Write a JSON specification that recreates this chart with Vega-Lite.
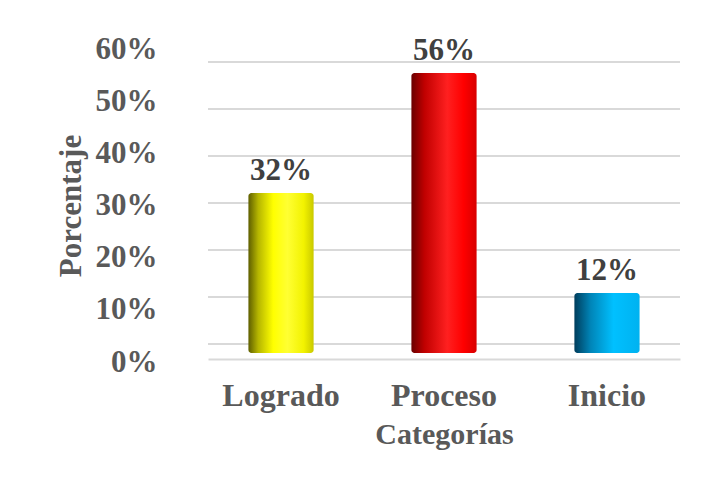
{
  "$schema": "https://vega.github.io/schema/vega-lite/v6.json",
  "autosize": {"type": "none"},
  "width": 472,
  "height": 313,
  "padding": {"left": 208, "top": 49, "right": 44, "bottom": 127},
  "background": "white",
  "config": {
    "view": {"stroke": null},
    "font": "Liberation Serif"
  },
  "datasets": {
    "main": [
      {"categoria": "Logrado", "porcentaje": 0.32},
      {"categoria": "Proceso", "porcentaje": 0.56},
      {"categoria": "Inicio", "porcentaje": 0.12}
    ],
    "ticks": [
      {"v": 0}, {"v": 0.1}, {"v": 0.2}, {"v": 0.3}, {"v": 0.4}, {"v": 0.5}, {"v": 0.6}
    ]
  },
  "layer": [
    {
      "data": {"name": "ticks"},
      "mark": {"type": "rule", "color": "#d9d9d9", "strokeWidth": 2},
      "encoding": {
        "y": {"field": "v", "type": "quantitative",
          "scale": {"domain": [-0.0383, 0.62766], "nice": false, "zero": false},
          "axis": null}
      }
    },
    {
      "data": {"name": "ticks"},
      "mark": {"type": "point", "opacity": 0},
      "encoding": {
        "y": {"field": "v", "type": "quantitative",
          "scale": {"domain": [0, 0.6], "nice": false, "zero": false},
          "axis": {
            "orient": "left",
            "values": [0, 0.1, 0.2, 0.3, 0.4, 0.5, 0.6],
            "format": ".0%",
            "title": "Porcentaje",
            "ticks": false, "tickSize": 0, "domain": false, "grid": false,
            "labelPadding": 51,
            "labelFont": "Liberation Serif", "labelFontWeight": "bold", "labelFontSize": 31, "labelColor": "#595959",
            "titleFont": "Liberation Serif", "titleFontWeight": "bold", "titleFontSize": 31, "titleColor": "#595959",
            "titlePadding": 8
          }}
      }
    },
    {
      "data": {"name": "main"},
      "encoding": {
        "x": {"field": "categoria", "type": "nominal", "sort": ["Logrado", "Proceso", "Inicio"],
          "scale": {"paddingInner": 0.6, "paddingOuter": 0.248},
          "axis": {
            "title": "Categorías",
            "labelAngle": 0,
            "ticks": false, "tickSize": 0,
            "domain": true, "domainColor": "#d9d9d9", "domainWidth": 2,
            "offset": -3,
            "labelPadding": 21,
            "labelFont": "Liberation Serif", "labelFontWeight": "bold", "labelFontSize": 32, "labelColor": "#595959",
            "titleFont": "Liberation Serif", "titleFontWeight": "bold", "titleFontSize": 30, "titleColor": "#595959",
            "titlePadding": 8
          }},
        "y": {"field": "porcentaje", "type": "quantitative",
          "scale": {"domain": [-0.018, 0.608], "nice": false, "zero": false},
          "axis": null}
      },
      "layer": [
        {
          "mark": {"type": "bar", "cornerRadius": 3},
          "encoding": {
            "y2": {"datum": 0},
            "fill": {
              "condition": [
                {"test": "datum.categoria === 'Logrado'", "value": {
                  "gradient": "linear", "x1": 0, "y1": 0, "x2": 1, "y2": 0,
                  "stops": [
                    {"offset": 0, "color": "#5e5e00"},
                    {"offset": 0.15, "color": "#b5b500"},
                    {"offset": 0.38, "color": "#ffff00"},
                    {"offset": 0.6, "color": "#ffff33"},
                    {"offset": 0.85, "color": "#f2f200"},
                    {"offset": 1, "color": "#c9c900"}
                  ]}},
                {"test": "datum.categoria === 'Proceso'", "value": {
                  "gradient": "linear", "x1": 0, "y1": 0, "x2": 1, "y2": 0,
                  "stops": [
                    {"offset": 0, "color": "#6a0000"},
                    {"offset": 0.2, "color": "#c00000"},
                    {"offset": 0.55, "color": "#ff2020"},
                    {"offset": 0.8, "color": "#ff0000"},
                    {"offset": 1, "color": "#d80000"}
                  ]}}
              ],
              "value": {
                "gradient": "linear", "x1": 0, "y1": 0, "x2": 1, "y2": 0,
                "stops": [
                  {"offset": 0, "color": "#003d5c"},
                  {"offset": 0.25, "color": "#0085b8"},
                  {"offset": 0.6, "color": "#00c0ff"},
                  {"offset": 1, "color": "#00b2f0"}
                ]}
            }
          }
        },
        {
          "mark": {"type": "text", "dy": -13, "baseline": "alphabetic", "font": "Liberation Serif", "fontWeight": "bold", "fontSize": 31, "color": "#404040"},
          "encoding": {
            "text": {"field": "porcentaje", "type": "quantitative", "format": ".0%"}
          }
        }
      ]
    }
  ],
  "resolve": {"scale": {"y": "independent"}}
}
